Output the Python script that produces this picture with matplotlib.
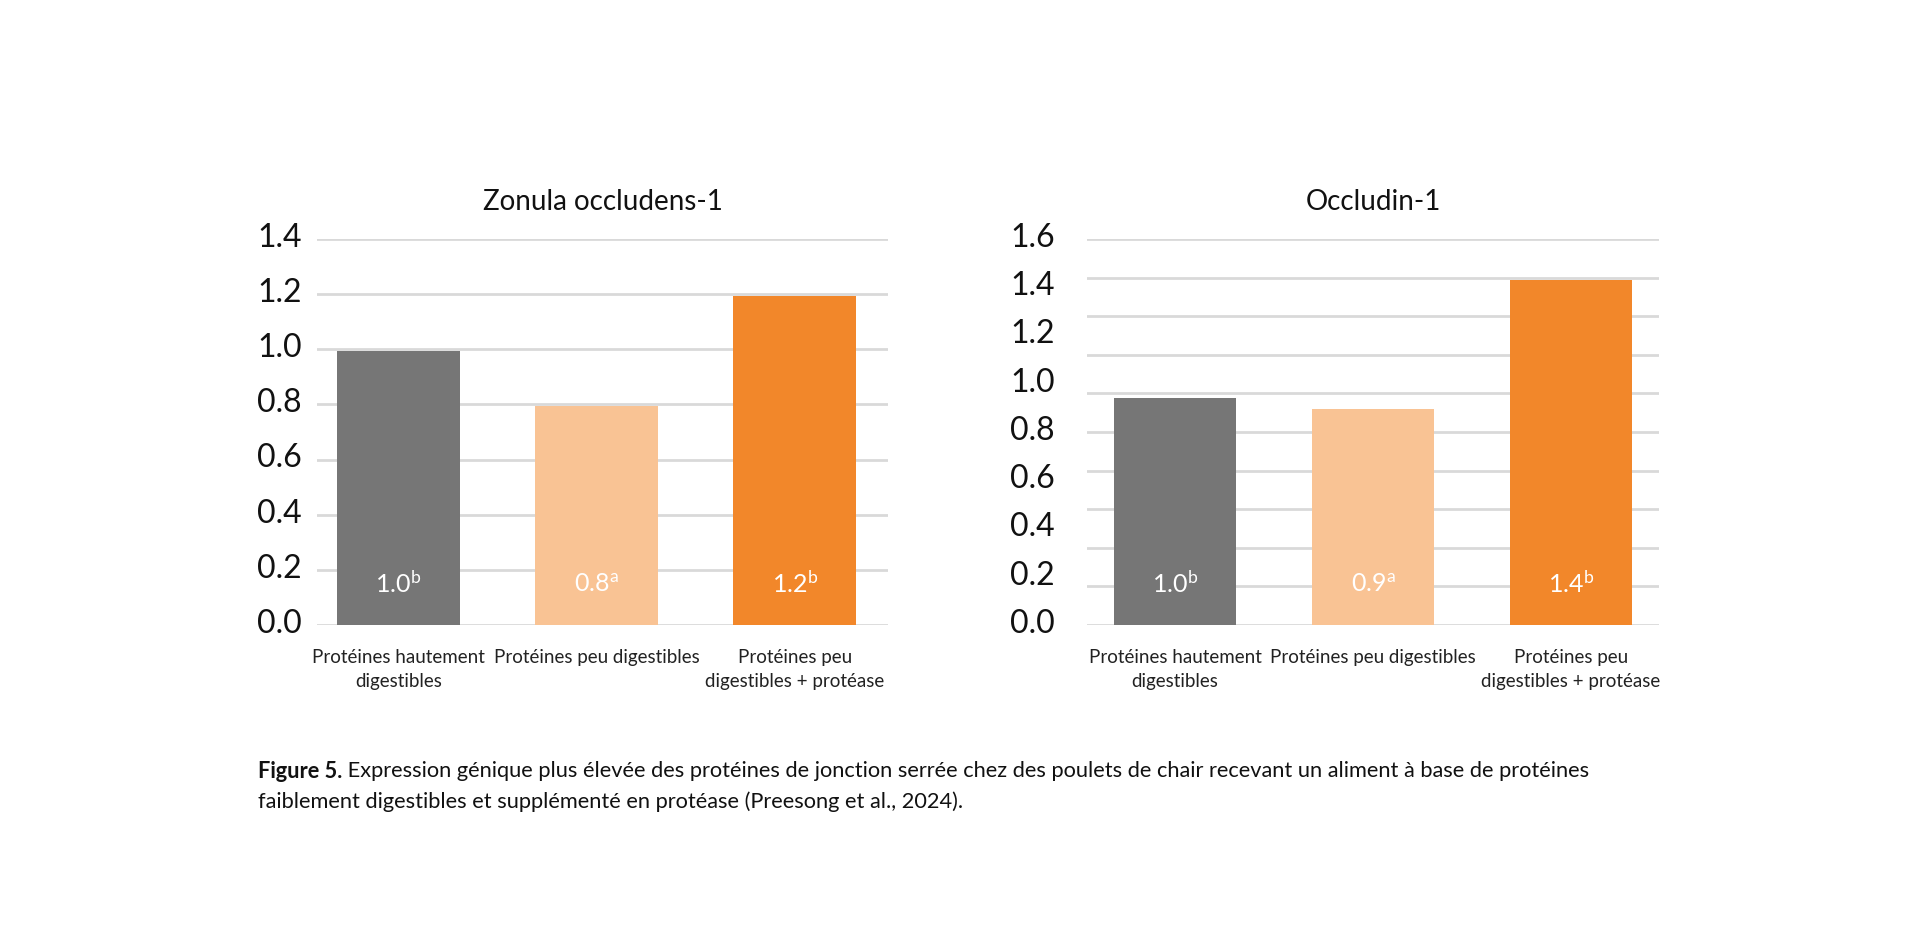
import matplotlib
matplotlib.use("Agg")
import numpy as np
import matplotlib.pyplot as plt
import matplotlib.transforms as mtransforms

plt.rcParams['font.family'] = ['Lato', 'DejaVu Sans']
plt.rcParams['mathtext.fontset'] = 'custom'
plt.rcParams['mathtext.rm'] = 'Lato'
plt.rcParams['mathtext.it'] = 'Lato:italic'
plt.rcParams['mathtext.bf'] = 'Lato:bold'

categories = ["Protéines hautement\ndigestibles",
              "Protéines peu digestibles",
              "Protéines peu\ndigestibles + protéase"]
colors = ["#767676", "#F9C394", "#F2872A"]

zo_title = "Zonula occludens-1"
zo_values = [0.995, 0.795, 1.195]
zo_labels = ["1.0", "0.8", "1.2"]
zo_letters = ["b", "a", "b"]
zo_ticks = [0.0, 0.2, 0.4, 0.6, 0.8, 1.0, 1.2, 1.4]
zo_grid_n = 7      # grid intervals drawn in the original

oc_title = "Occludin-1"
oc_values = [0.94, 0.896, 1.428]
oc_labels = ["1.0", "0.9", "1.4"]
oc_letters = ["b", "a", "b"]
oc_ticks = [0.0, 0.2, 0.4, 0.6, 0.8, 1.0, 1.2, 1.4, 1.6]
oc_grid_n = 10     # original grid does not follow the labels

caption_bold = "Figure 5."
caption_line1 = (" Expression génique plus élevée des protéines de jonction serrée chez des "
                 "poulets de chair recevant un aliment à base de protéines")
caption_line2 = "faiblement digestibles et supplémenté en protéase (Preesong et al., 2024)."

W, H = 1918, 930
fig = plt.figure(figsize=(W / 100, H / 100), dpi=100)


def draw_panel(rect, title, values, labels, letters, ticks, grid_n, xlim, tickpad):
    ax = fig.add_axes(rect)
    x = range(len(values))
    ax.bar(x, values, width=0.62, color=colors, zorder=3)
    ax.set_xlim(*xlim)
    ax.set_ylim(0, ticks[-1])
    ax.set_yticks(ticks)
    ax.set_yticklabels([f"{t:.1f}" for t in ticks])
    for g in np.linspace(0, ticks[-1], grid_n + 1):
        ax.axhline(g, color="#D9D9D9", lw=2.0, zorder=1)
    for s in ax.spines.values():
        s.set_visible(False)
    ax.tick_params(axis="y", length=0, pad=tickpad, labelsize=23, labelcolor="#111111")
    ax.tick_params(axis="x", length=0, pad=17, labelsize=13.5, labelcolor="#222222")
    shift = mtransforms.ScaledTranslation(0, 3 / 72, fig.dpi_scale_trans)
    for lab in ax.get_yticklabels():
        lab.set_transform(lab.get_transform() + shift)
    ax.set_xticks(list(x))
    ax.set_xticklabels(categories, linespacing=1.55)
    ax.set_title(title, fontsize=20, pad=21, color="#111111")
    trans = mtransforms.blended_transform_factory(ax.transData, ax.transAxes)
    for i, (lab, let) in enumerate(zip(labels, letters)):
        ax.text(i, 0.106, lab + r"$^{\mathrm{" + let + "}}$", transform=trans,
                ha="center", va="center", color="white", fontsize=18, zorder=4)
    return ax


draw_panel([317 / W, 1 - 625 / H, 571 / W, 386 / H], zo_title, zo_values, zo_labels,
           zo_letters, zo_ticks, zo_grid_n, (-0.41, 2.47), 11)
draw_panel([1087 / W, 1 - 625 / H, 572 / W, 386 / H], oc_title, oc_values, oc_labels,
           oc_letters, oc_ticks, oc_grid_n, (-0.444, 2.444), 23)

# caption
t1 = fig.text(258 / W, 1 - 771 / H, caption_bold, fontsize=15.7, fontweight="bold",
              color="#111111", va="center")
r = fig.canvas.get_renderer()
bb = t1.get_window_extent(renderer=r)
fig.text(bb.x1 / W, 1 - 771 / H, caption_line1, fontsize=15.7, color="#111111", va="center")
fig.text(258 / W, 1 - 802 / H, caption_line2, fontsize=15.7, color="#111111", va="center")

fig.savefig("out.png", dpi=100, facecolor="white")
